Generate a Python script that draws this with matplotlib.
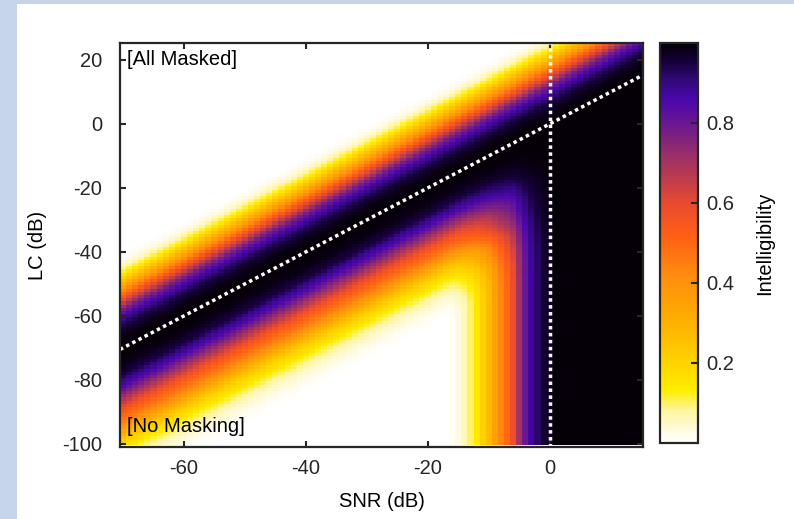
import numpy as np
import matplotlib
matplotlib.use('Agg')
import matplotlib.pyplot as plt
from matplotlib.colors import LinearSegmentedColormap
from matplotlib.patches import Rectangle

plt.rcParams['font.family'] = ['Liberation Sans', 'DejaVu Sans']
plt.rcParams['axes.unicode_minus'] = False

# Ejes de la rejilla (dB)
snr = np.arange(-70, 16)
lc = np.arange(-100, 26)

# Perfil superior: inteligibilidad vs (LC - SNR) para d = 0..30 ("All Masked")
d_sup = np.arange(0, 31)
i_sup = [1.0, 1.0, 0.995, 0.99, 0.985, 0.97, 0.96, 0.94, 0.92, 0.89,
         0.86, 0.82, 0.78, 0.72, 0.66, 0.60, 0.54, 0.48, 0.42, 0.36,
         0.30, 0.25, 0.20, 0.15, 0.11, 0.08, 0.05, 0.03, 0.015, 0.005, 0.0]

# Perfil inferior: inteligibilidad vs (LC - SNR) para d = -45..0 ("No Masking")
d_inf = np.arange(-45, 1)
i_inf = [0.0, 0.0, 0.005, 0.01, 0.015, 0.02, 0.03, 0.04, 0.05, 0.07,
         0.08, 0.10, 0.12, 0.15, 0.17, 0.19, 0.22, 0.25, 0.29, 0.33,
         0.37, 0.41, 0.45, 0.48, 0.51, 0.54, 0.57, 0.61, 0.65, 0.69,
         0.73, 0.77, 0.81, 0.85, 0.87, 0.90, 0.93, 0.95, 0.96, 0.975,
         0.985, 0.99, 0.995, 1.0, 1.0, 1.0]

# Inteligibilidad del habla ruidosa sin procesar vs SNR
snr_ruido = np.arange(-18, 2)
i_ruido = [0.0, 0.0, 0.01, 0.03, 0.06, 0.10, 0.15, 0.21, 0.27, 0.35,
           0.43, 0.50, 0.58, 0.70, 0.80, 0.87, 0.92, 0.96, 0.98, 1.0]

# Mapa de color (blanco -> amarillo -> naranja -> morado -> negro)
cmap_pos = [0.0, 0.03, 0.08, 0.13, 0.22, 0.32, 0.42, 0.52, 0.60, 0.67,
            0.74, 0.80, 0.86, 0.91, 0.95, 1.0]
cmap_col = ['#ffffff', '#fffbe0', '#fff5a0', '#ffee00', '#ffcc00', '#ffaa00',
            '#ff8c10', '#ff5f14', '#e84a30', '#b83a50', '#8e2a72', '#6a1890',
            '#4a06ac', '#300878', '#180040', '#050008']
cmap = LinearSegmentedColormap.from_list('intel', list(zip(cmap_pos, cmap_col)))

S, L = np.meshgrid(snr, lc)
D = L - S
sup = np.interp(D, d_sup, i_sup)
inf = np.interp(D, d_inf, i_inf)
ruido = np.interp(S, snr_ruido, i_ruido)
Z = sup * (1 - (1 - inf) * (1 - ruido))

fig = plt.figure(figsize=(7.94, 5.19), dpi=100)
fig.patch.set_facecolor('#c6d5ea')
fondo = Rectangle((17 / 794, 0), 1, 1 - 4 / 519, transform=fig.transFigure,
                  facecolor='white', edgecolor='none', zorder=-10)
fig.patches.append(fondo)

ax = fig.add_axes([120 / 794, 1 - 447 / 519, 523 / 794, 404 / 519])
x_bordes = np.append(snr - 0.5, snr[-1] + 0.5)
y_bordes = np.append(lc - 0.5, lc[-1] + 0.5)
mesh = ax.pcolormesh(x_bordes, y_bordes, Z, cmap=cmap, vmin=0, vmax=1, shading='flat')

# Lineas de referencia
ax.plot([-70.5, 15.3], [-70.5, 15.3], color='white', lw=2.5, ls=(0, (1, 1)))
ax.plot([0, 0], [-101, 25.3], color='white', lw=2.5, ls=(0, (1, 1)))

ax.set_xlim(-70.5, 15.3)
ax.set_ylim(-101, 25.3)
ax.set_xticks([-60, -40, -20, 0])
ax.set_yticks([-100, -80, -60, -40, -20, 0, 20])
ax.tick_params(direction='in', length=4, width=1.5, top=True, right=True,
               labelsize=14.5, colors='#262626')
ax.tick_params(axis='x', pad=9)
ax.tick_params(axis='y', pad=13)
for s in ax.spines.values():
    s.set_linewidth(1.6)
    s.set_color('#262626')

ax.set_xlabel('SNR (dB)', fontsize=14.5, labelpad=10)
ax.set_ylabel('LC (dB)', fontsize=14.5, labelpad=11)

ax.text(-69.3, 20, '[All Masked]', fontsize=14.5, va='center', ha='left')
ax.text(-69.3, -94.7, '[No Masking]', fontsize=14.5, va='center', ha='left')

cax = fig.add_axes([660 / 794, 1 - 443 / 519, 38 / 794, 400 / 519])
cb = fig.colorbar(mesh, cax=cax, ticks=[0.2, 0.4, 0.6, 0.8])
cb.outline.set_linewidth(1.6)
cb.outline.set_edgecolor('#262626')
cax.tick_params(direction='in', length=5, width=1.5, pad=6, labelsize=14.5, colors='#262626')
cb.set_label('Intelligibility', fontsize=14.5, labelpad=15)

fig.savefig('out.png', dpi=100, facecolor=fig.get_facecolor())
